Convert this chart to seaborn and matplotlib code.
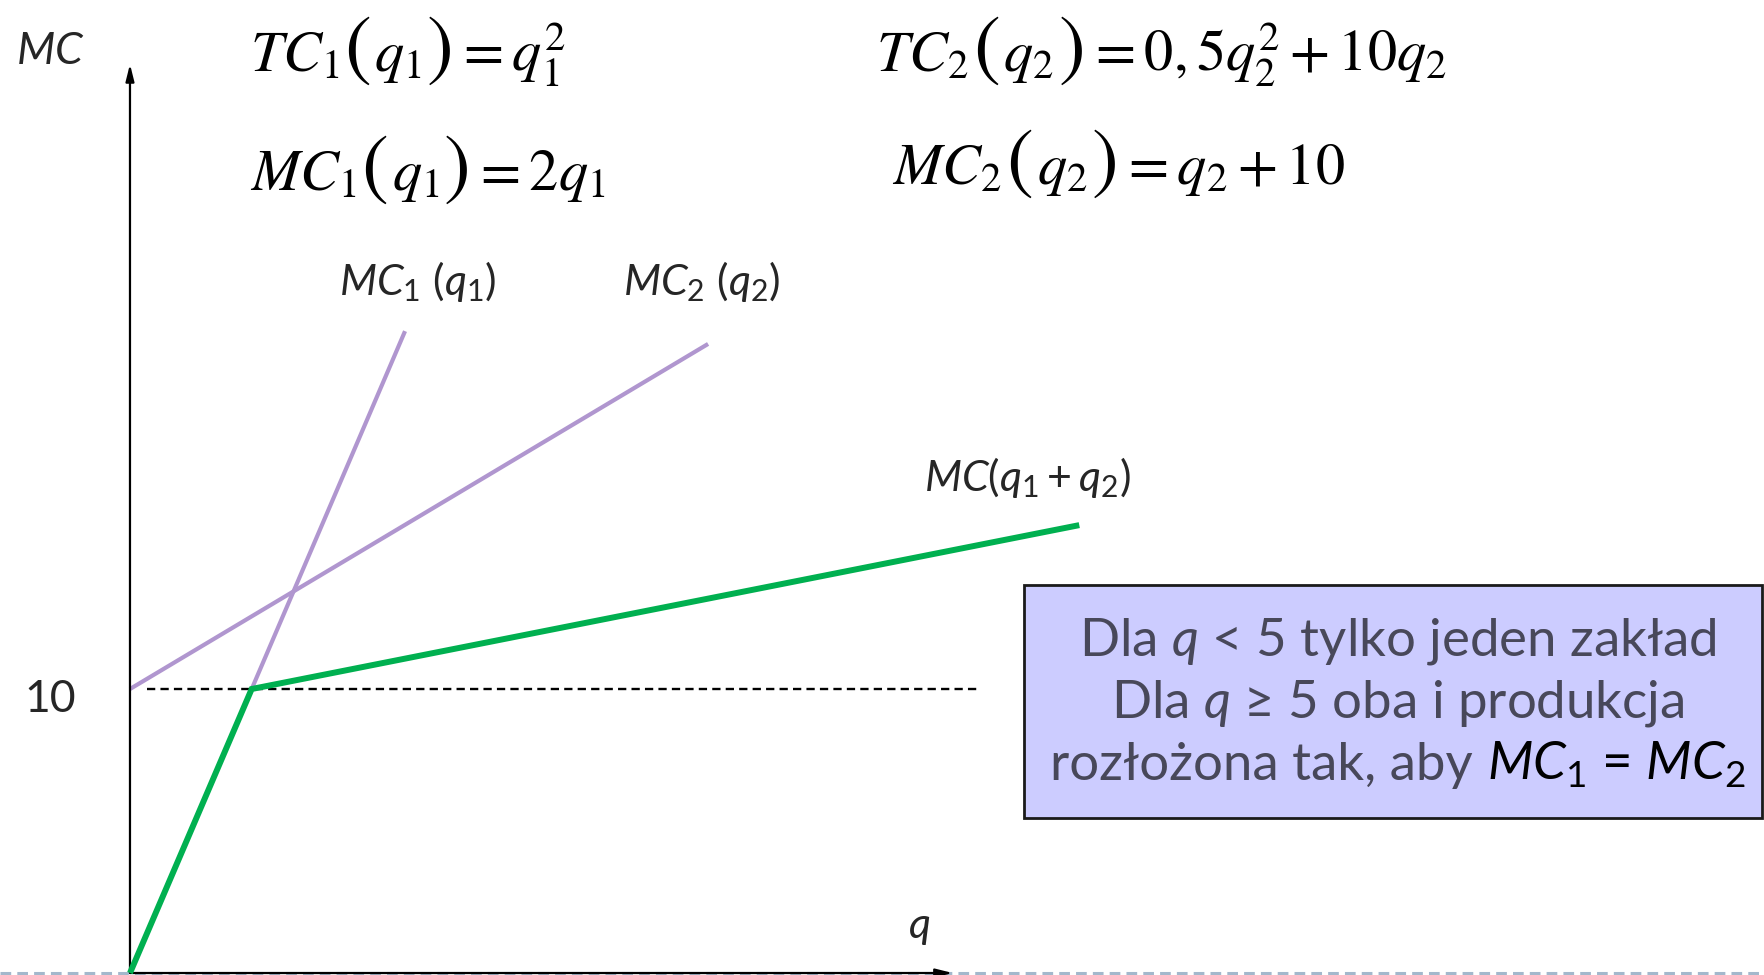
import numpy as np
import pandas as pd
import matplotlib
matplotlib.use("Agg")
import matplotlib.pyplot as plt
import seaborn as sns
from matplotlib.patches import Rectangle
from matplotlib.lines import Line2D
from matplotlib.offsetbox import TextArea, HPacker, VPacker, AnnotationBbox

# Schematic curves (q on x, MC on y)
mc1_q = [0, 11.3]
mc1_mc = [0, 22.6]
mc2_q = [0, 23.75]
mc2_mc = [10, 22.15]
mc_sum_q = [0, 5, 39.0]
mc_sum_mc = [0, 10, 15.77]
ref_level = 10
ref_q = [0.7, 34.9]
axis_q_max = 33.8
axis_mc_max = 32.0
ytick_values = [10]

W, H = 1764, 975
PURPLE = '#b096cf'
GREEN = '#00b050'
GRAY_TXT = '#48485a'


def fx(x, y):
    # pixel position on the slide -> axes fraction (axes fill the figure)
    return x / W, 1 - y / H


def equation(ax, pos, name, arg, rhs, size=42):
    # MathType-like formula: big thin parentheses around the argument
    tp = dict(fontsize=size, math_fontfamily='stix', color='black')
    pp = dict(fontsize=size * 1.38, math_fontfamily='stix', color='black')
    parts = [TextArea(name, textprops=tp), TextArea(r'$($', textprops=pp),
             TextArea(arg, textprops=tp), TextArea(r'$)$', textprops=pp),
             TextArea(rhs, textprops=tp)]
    pack = HPacker(children=parts, sep=3, align='baseline', pad=0)
    ab = AnnotationBbox(pack, pos, xycoords=ax.transAxes, frameon=False,
                        box_alignment=(0, 0.5), zorder=6)
    ax.add_artist(ab)


def main():
    sns.set_style("white")
    plt.rcParams['font.family'] = ['Lato', 'DejaVu Sans']
    plt.rcParams['mathtext.fontset'] = 'custom'
    plt.rcParams['mathtext.rm'] = 'Lato'
    plt.rcParams['mathtext.it'] = 'Lato:italic'
    plt.rcParams['mathtext.bf'] = 'Lato:bold'

    fig = plt.figure(figsize=(W / 100, H / 100), dpi=100)
    ax = fig.add_axes([0, 0, 1, 1])

    mc1 = pd.DataFrame({'q': mc1_q, 'MC': mc1_mc})
    mc2 = pd.DataFrame({'q': mc2_q, 'MC': mc2_mc})
    mc_sum = pd.DataFrame({'q': mc_sum_q, 'MC': mc_sum_mc})

    # slide footer dashed line
    ax.add_line(Line2D([0, 1], [1 - 973 / H] * 2, transform=ax.transAxes,
                       color='#a3b8cc', lw=2.2, dashes=(3.5, 2), zorder=0))

    # axes with arrows
    arrow = dict(arrowstyle='-|>,head_length=1.0,head_width=0.25',
                 color='black', lw=1.6, shrinkA=0, shrinkB=0)
    ax.annotate('', xy=(axis_q_max, 0), xytext=(0, 0), arrowprops=arrow, zorder=3)
    ax.annotate('', xy=(0, axis_mc_max), xytext=(0, 0), arrowprops=arrow, zorder=3)

    ax.hlines(ref_level, ref_q[0], ref_q[1], colors='black', lw=1.7,
              linestyles=(0, (3.5, 2.2)), zorder=2)

    sns.lineplot(data=mc1, x='q', y='MC', ax=ax, color=PURPLE, lw=3.0,
                 sort=False, estimator=None, solid_capstyle='butt', zorder=2)
    sns.lineplot(data=mc2, x='q', y='MC', ax=ax, color=PURPLE, lw=3.0,
                 sort=False, estimator=None, solid_capstyle='butt', zorder=2)
    sns.lineplot(data=mc_sum, x='q', y='MC', ax=ax, color=GREEN, lw=4.3,
                 sort=False, estimator=None, solid_capstyle='butt',
                 solid_joinstyle='miter', zorder=4)
    ax.set_xlim(-5.34, 67.13)
    ax.set_ylim(-0.07, 34.26)
    ax.axis('off')

    tr = ax.transAxes
    # axis labels
    ax.text(*fx(16, 51), r'$MC$', transform=tr, fontsize=32, va='center', ha='left')
    ax.text(*fx(24, 700), str(ytick_values[0]), transform=tr, fontsize=32,
            va='center', ha='left')
    ax.text(*fx(908, 928), r'$q$', transform=tr, fontsize=31, va='center', ha='left')

    # formulas
    equation(ax, fx(250, 51), r'$TC_1$', r'$q_1$', r'$=q_1^2$')
    equation(ax, fx(250, 169), r'$MC_1$', r'$q_1$', r'$=2q_1$')
    equation(ax, fx(876, 51), r'$TC_2$', r'$q_2$', r'$=0,5q_2^2+10q_2$')
    equation(ax, fx(892, 163), r'$MC_2$', r'$q_2$', r'$=q_2+10$')

    # curve labels
    lab = dict(transform=tr, fontsize=31, va='center', ha='left')
    ax.text(*fx(339, 281), r'$MC_1\ (q_1)$', **lab)
    ax.text(*fx(623, 281), r'$MC_2\ (q_2)$', **lab)
    ax.text(*fx(924, 478), r'$MC(q_1+q_2)$', **lab)

    # info box
    ax.add_patch(Rectangle(fx(1024, 818), (1762 - 1024) / W, (818 - 585) / H,
                           transform=tr, facecolor='#ccccff', edgecolor='#1a1a1a',
                           lw=2, zorder=5))
    bp = dict(fontsize=38, color=GRAY_TXT)
    line1 = TextArea('Dla $q$ < 5 tylko jeden zakład', textprops=bp)
    line2 = TextArea('Dla $q$ ≥ 5 oba i produkcja', textprops=bp)
    line3 = HPacker(children=[TextArea('rozłożona tak, aby', textprops=bp),
                              TextArea(r'$MC_1$ = $MC_2$',
                                       textprops=dict(fontsize=38, color='black'))],
                    sep=10, align='baseline', pad=0)
    box = VPacker(children=[line1, line2, line3], sep=8, align='center', pad=0)
    ab = AnnotationBbox(box, fx(1398, 703), xycoords=tr, frameon=False,
                        box_alignment=(0.5, 0.5), zorder=6)
    ax.add_artist(ab)

    fig.savefig('out.png', dpi=100)


if __name__ == "__main__":
    main()
